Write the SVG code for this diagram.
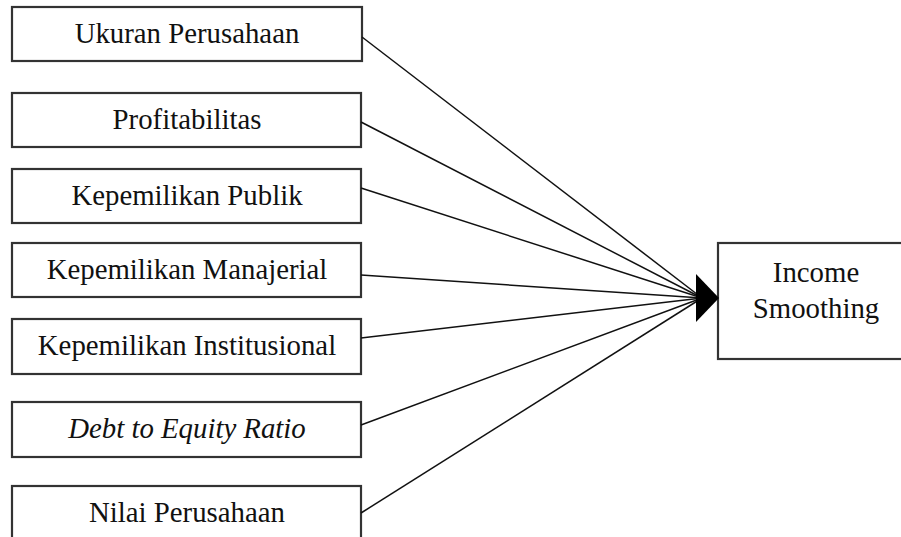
<svg xmlns="http://www.w3.org/2000/svg" width="901" height="537" viewBox="0 0 901 537">
<style>
.box{fill:#fff;stroke:#333;stroke-width:2.2}
.t{font-family:"Liberation Serif","Times New Roman",serif;font-size:28.8px;fill:#111;text-anchor:middle}
.c{stroke:#111;stroke-width:1.5;fill:none}
</style>
<rect width="901" height="537" fill="#fff"/>
<g id="n1"><rect class="box" x="12" y="7" width="350" height="54"/><text class="t" x="187" y="43">Ukuran Perusahaan</text></g>
<g id="n2"><rect class="box" x="12" y="93" width="349" height="54"/><text class="t" x="187" y="129">Profitabilitas</text></g>
<g id="n3"><rect class="box" x="12" y="169" width="349" height="54"/><text class="t" x="187" y="205">Kepemilikan Publik</text></g>
<g id="n4"><rect class="box" x="12" y="243" width="349" height="54"/><text class="t" x="187" y="279">Kepemilikan Manajerial</text></g>
<g id="n5"><rect class="box" x="12" y="319" width="349" height="55"/><text class="t" x="187" y="355">Kepemilikan Institusional</text></g>
<g id="n6"><rect class="box" x="12" y="402" width="349" height="55"/><text class="t" x="187" y="438" font-style="italic">Debt to Equity Ratio</text></g>
<g id="n7"><rect class="box" x="12" y="486" width="349" height="60"/><text class="t" x="187" y="522">Nilai Perusahaan</text></g>
<g id="n8"><rect class="box" x="718" y="243" width="200" height="116"/><text class="t" x="816" y="282">Income</text><text class="t" x="816" y="318">Smoothing</text></g>
<g id="connectors">
<line class="c" x1="362" y1="37" x2="702" y2="298"/>
<line class="c" x1="361" y1="122" x2="702" y2="298"/>
<line class="c" x1="361" y1="188" x2="702" y2="298"/>
<line class="c" x1="361" y1="275" x2="702" y2="298"/>
<line class="c" x1="361" y1="338" x2="702" y2="298"/>
<line class="c" x1="361" y1="425" x2="702" y2="298"/>
<line class="c" x1="361" y1="513" x2="702" y2="298"/>
<polygon points="696,274 719,298 696,322" fill="#000"/>
</g>
</svg>
